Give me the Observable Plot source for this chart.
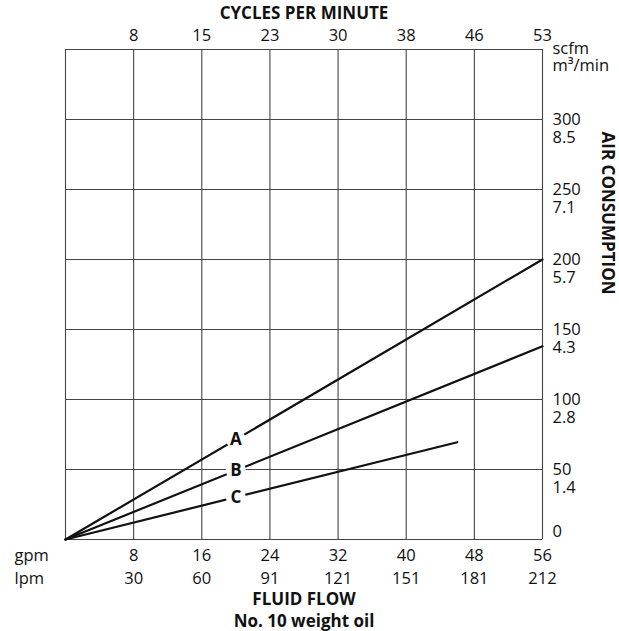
<!DOCTYPE html>
<html>
<head>
<meta charset="utf-8">
<script src="https://cdn.jsdelivr.net/npm/d3@7"></script>
<script src="https://cdn.jsdelivr.net/npm/@observablehq/plot@0.6"></script>
<style>
  html, body { margin: 0; padding: 0; background: white; }
</style>
</head>
<body>
<div id="chart"></div>
<script>
// Tick labels
const gpm = [8, 16, 24, 32, 40, 48, 56];
const lpm = [30, 60, 91, 121, 151, 181, 212];
const cyclesPerMinute = [8, 15, 23, 30, 38, 46, 53];
const scfm = [0, 50, 100, 150, 200, 250, 300];
const m3min = ["", "1.4", "2.8", "4.3", "5.7", "7.1", "8.5"];
const yTop = 350;

// Curves: [gpm, scfm]
const curveA = [[0, 0], [56, 200]];
const curveB = [[0, 0], [56, 138]];
const curveC = [[0, 0], [46, 69.5]];
const curveNames = ["A", "B", "C"];
const labelGpm = 20;

const curves = [curveA, curveB, curveC];
const curveRows = curves.flatMap((pts, i) => pts.map(([x, y]) => ({curve: curveNames[i], x, y})));
const labelRows = curves.map((pts, i) => {
  const [x1, y1] = pts[pts.length - 1];
  return {curve: curveNames[i], x: labelGpm, y: y1 * labelGpm / x1};
});
const flowRows = gpm.map((g, i) => ({g, text: `${g}\n${lpm[i]}`}));
const airRows = scfm.filter(s => s > 0).map(s => ({s, text: `${s}\n${m3min[scfm.indexOf(s)]}`}));

const font = "'Open Sans', 'DejaVu Sans', sans-serif";
const ink = "#111";
const gridColor = "#444";
const fs = 16.5;

const chart = Plot.plot({
  width: 619,
  height: 631,
  marginLeft: 65,
  marginRight: 77,
  marginTop: 49,
  marginBottom: 92,
  x: {domain: [0, 56], axis: null},
  y: {domain: [0, yTop], axis: null},
  style: {fontFamily: font, fontSize: fs + "px", background: "white", color: ink},
  marks: [
    // grid / frame
    Plot.ruleX([0, ...gpm], {stroke: gridColor, strokeWidth: 1.1}),
    Plot.ruleY([...scfm, yTop], {stroke: gridColor, strokeWidth: 1.1}),
    // curves
    Plot.line(curveRows, {x: "x", y: "y", z: "curve", stroke: ink, strokeWidth: 2.2}),
    Plot.dot(labelRows, {x: "x", y: "y", r: 10, fill: "white", stroke: null}),
    Plot.text(labelRows, {x: "x", y: "y", text: "curve", fontWeight: "bold", fontSize: 17, fill: ink}),
    // bottom axis labels (gpm over lpm)
    Plot.text(flowRows, {x: "g", y: () => 0, dy: 25.5, text: "text", lineAnchor: "middle", lineHeight: 23 / fs, fontSize: fs, fill: ink}),
    Plot.text(["gpm\nlpm"], {frameAnchor: "bottom-left", dx: -51, dy: 25.5, lineAnchor: "middle", lineHeight: 23 / fs, textAnchor: "start", fontSize: fs, fill: ink}),
    Plot.text(["FLUID FLOW\nNo. 10 weight oil"], {frameAnchor: "bottom", dy: 69.5, lineAnchor: "middle", lineHeight: 21.5 / 17, fontWeight: "bold", fontSize: 17, fill: ink}),
    // top axis labels
    Plot.text(cyclesPerMinute, {x: (d, i) => gpm[i], y: () => yTop, dy: -14, text: d => String(d), fontSize: fs, fill: ink}),
    Plot.text(["CYCLES PER MINUTE"], {frameAnchor: "top", dy: -36, lineAnchor: "middle", fontWeight: "bold", fontSize: 17, fill: ink}),
    // right axis labels (scfm over m³/min)
    Plot.text(airRows, {x: () => 56, y: "s", dx: 10, dy: 9, lineAnchor: "middle", lineHeight: 18 / fs, textAnchor: "start", text: "text", fontSize: fs, fill: ink}),
    Plot.text([scfm[0]], {x: () => 56, y: d => d, dx: 10, dy: -8, textAnchor: "start", text: d => String(d), fontSize: fs, fill: ink}),
    Plot.text(["scfm\nm³/min"], {frameAnchor: "top-right", dx: 10, dy: 7.5, lineAnchor: "middle", lineHeight: 17 / fs, textAnchor: "start", fontSize: fs, fill: ink}),
    Plot.text(["AIR CONSUMPTION"], {frameAnchor: "right", dx: 65, rotate: 90, fontWeight: "bold", fontSize: 17, fill: ink})
  ]
});
document.getElementById("chart").appendChild(chart);
</script>
</body>
</html>
